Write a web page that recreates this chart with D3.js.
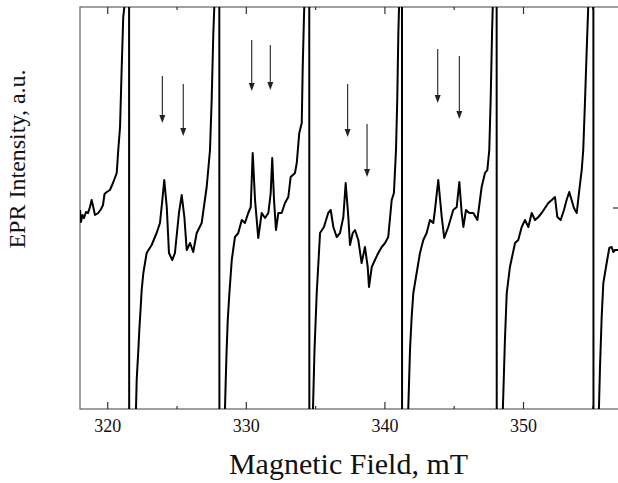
<!DOCTYPE html>
<html>
<head>
<meta charset="utf-8">
<script src="https://cdn.jsdelivr.net/npm/d3@7"></script>
<style>
  body { margin: 0; background: #fff; }
  svg { display: block; }
</style>
</head>
<body>
<svg id="chart" width="618" height="483"></svg>
<script>
// magnetic field, mT (values off the scale mark the clipped sweeps through the big lines)
const field = [
  318.00, 318.07, 318.18, 318.29, 318.43, 318.58, 318.72, 318.84, 318.94, 319.08,
  319.32, 319.52, 319.66, 319.77, 319.93, 320.16, 320.38, 320.65, 320.76, 320.89,
  321.01, 321.12, 321.20, 321.28, 321.54, 321.55, 321.97,
  322.04, 322.09, 322.21, 322.28, 322.38, 322.45, 322.57, 322.81, 323.17, 323.53,
  323.77, 323.94, 324.08, 324.26, 324.42, 324.66, 324.85, 325.14, 325.34, 325.53,
  325.70, 325.94, 326.17, 326.42, 326.78, 327.14, 327.38, 327.50, 327.62, 327.69,
  327.78, 328.05, 328.06, 328.43,
  328.46, 328.51, 328.58, 328.66, 328.77, 328.95, 329.18, 329.42, 329.67, 329.90,
  330.14, 330.32, 330.46, 330.63, 330.86, 331.11, 331.35, 331.59, 331.76, 331.87,
  332.00, 332.14, 332.31, 332.55, 332.79, 333.03, 333.20, 333.51, 333.64, 333.82,
  334.00, 334.07, 334.16, 334.18, 334.27, 334.54, 334.55, 334.77,
  334.81, 334.92, 335.08, 335.32, 335.60, 335.91, 336.09, 336.28, 336.52, 336.76,
  337.00, 337.17, 337.36, 337.48, 337.68, 337.84, 338.08, 338.32, 338.56, 338.76,
  338.85, 339.05, 339.28, 339.52, 339.77, 340.01, 340.24, 340.49, 340.65, 340.80,
  340.89, 340.97, 341.02, 341.09, 341.23, 341.24, 341.63,
  341.69, 341.81, 341.93, 342.05, 342.29, 342.53, 342.77, 343.01, 343.25, 343.49,
  343.61, 343.85, 344.10, 344.28, 344.57, 344.93, 345.18, 345.37, 345.54, 345.66,
  345.85, 346.09, 346.38, 346.67, 346.98, 347.22, 347.39, 347.53, 347.63, 347.73,
  347.78, 347.87, 348.06, 348.07, 348.48,
  348.51, 348.66, 348.79, 349.02, 349.39, 349.62, 349.87, 350.11, 350.35, 350.59,
  350.83, 351.07, 351.31, 351.55, 351.79, 352.04, 352.27, 352.44, 352.68, 352.92,
  353.11, 353.30, 353.47, 353.64, 353.84, 354.00, 354.20, 354.31, 354.44, 354.56,
  354.67, 354.80, 355.04, 355.05, 355.41,
  355.44, 355.52, 355.64, 355.76, 356.00, 356.19, 356.36, 356.48, 356.60, 356.82
];

// EPR intensity, a.u.
const intensity = [
  -2, -14, -7, -10, -4, -5, 1, 8, 2, -7,
  -5, -1, 3, 14, 16, 18, 25, 35, 58, 81,
  141, 191, 201, 240, 300, -300, -240,
  -201, -172, -142, -122, -99, -82, -65, -45, -37, -25,
  -15, 8, 28, 1, -45, -52, -45, -5, 13, -9,
  -42, -35, -44, -25, -15, 21, 58, 108, 175, 201,
  240, 300, -300, -240,
  -201, -175, -142, -112, -87, -52, -29, -25, -12, -15,
  -5, 1, 55, 8, -30, -5, -10, -5, 15, 50,
  8, -22, -5, -5, 5, 11, 31, 35, 45, 75,
  85, 141, 191, 201, 240, 300, -300, -240,
  -201, -142, -85, -25, -19, -5, -2, -19, -29, -25,
  -9, 25, -9, -37, -25, -22, -32, -55, -39, -59,
  -79, -59, -52, -45, -39, -35, -29, 8, 15, 58,
  108, 175, 201, 240, 300, -300, -240,
  -199, -142, -109, -85, -65, -45, -32, -25, -12, -15,
  -2, 28, -9, -30, -19, -2, 1, 26, -5, -19,
  -2, -5, -5, -12, 21, 35, 38, 58, 108, 175,
  201, 240, 300, -300, -240,
  -201, -132, -85, -59, -35, -32, -19, -12, -19, -5,
  -12, -9, -5, 0, 5, 8, 11, -9, -12, -2,
  8, 16, 8, 0, -5, 15, 38, 58, 108, 158,
  201, 240, 300, -300, -240,
  -201, -159, -109, -75, -55, -40, -39, -44, -42, -42
];

// arrows marking the weak lines
const arrowField = [323.94, 325.45, 330.39, 331.73, 337.31, 338.71, 343.81, 345.37];
const arrowTail = [132, 124, 168, 163, 124, 84, 159, 152];
const arrowTip = [85, 72, 117, 118, 71, 31, 105, 89];

const majorTicks = [320, 330, 340, 350];
const minorTicks = [325, 335, 345, 355];
const yTicks = [0];

const svg = d3.select('#chart');
const m = { left: 80, right: 619, top: 7, bottom: 409 };

const x = d3.scaleLinear().domain([318, 356.89]).range([m.left, m.right]);
const y = d3.scaleLinear().domain([-201, 201]).range([m.bottom, m.top]);

svg.append('defs')
  .append('clipPath')
  .attr('id', 'plot')
  .append('rect')
  .attr('x', m.left)
  .attr('y', m.top)
  .attr('width', m.right - m.left)
  .attr('height', m.bottom - m.top);

const frame = svg.append('g').attr('class', 'frame');

frame.append('rect')
  .attr('x', m.left)
  .attr('y', m.top)
  .attr('width', m.right - m.left)
  .attr('height', m.bottom - m.top)
  .attr('fill', 'none')
  .attr('stroke', '#6e6e6e')
  .attr('stroke-width', 1.3);

const tickLines = (vals, len) => {
  vals.forEach(v => {
    frame.append('line')
      .attr('x1', x(v)).attr('x2', x(v))
      .attr('y1', m.bottom).attr('y2', m.bottom - len)
      .attr('stroke', '#333').attr('stroke-width', 1.2);
    frame.append('line')
      .attr('x1', x(v)).attr('x2', x(v))
      .attr('y1', m.top).attr('y2', m.top + len)
      .attr('stroke', '#333').attr('stroke-width', 1.2);
  });
};
tickLines(majorTicks, 7);
tickLines(minorTicks, 3);

yTicks.forEach(v => {
  frame.append('line')
    .attr('x1', m.right).attr('x2', m.right - 6)
    .attr('y1', y(v)).attr('y2', y(v))
    .attr('stroke', '#333').attr('stroke-width', 1.2);
});

svg.append('g')
  .selectAll('text')
  .data(majorTicks)
  .enter()
  .append('text')
  .attr('x', d => x(d))
  .attr('y', 432)
  .attr('text-anchor', 'middle')
  .style('font-family', '"Liberation Serif", "Times New Roman", serif')
  .style('font-size', '18px')
  .attr('fill', '#111')
  .text(d => d);

svg.append('text')
  .attr('x', (m.left + m.right) / 2 - 1)
  .attr('y', 474)
  .attr('text-anchor', 'middle')
  .style('font-family', '"Liberation Serif", "Times New Roman", serif')
  .style('font-size', '30px')
  .attr('fill', '#111')
  .text('Magnetic Field, mT');

svg.append('text')
  .attr('transform', 'translate(25, 159) rotate(-90)')
  .attr('text-anchor', 'middle')
  .style('font-family', '"Liberation Serif", "Times New Roman", serif')
  .style('font-size', '24px')
  .attr('fill', '#111')
  .text('EPR Intensity, a.u.');

const line = d3.line()
  .x(d => x(d[0]))
  .y(d => y(d[1]));

svg.append('path')
  .datum(field.map((f, i) => [f, intensity[i]]))
  .attr('clip-path', 'url(#plot)')
  .attr('fill', 'none')
  .attr('stroke', '#000')
  .attr('stroke-width', 2)
  .attr('stroke-linejoin', 'round')
  .attr('d', line);

const arrows = svg.append('g')
  .selectAll('g')
  .data(arrowField.map((f, i) => ({ f, tail: arrowTail[i], tip: arrowTip[i] })))
  .enter()
  .append('g');

arrows.append('line')
  .attr('x1', d => x(d.f)).attr('x2', d => x(d.f))
  .attr('y1', d => y(d.tail)).attr('y2', d => y(d.tip) - 4)
  .attr('stroke', '#222')
  .attr('stroke-width', 1.1);

arrows.append('path')
  .attr('d', d => {
    const cx = x(d.f);
    const ty = y(d.tip);
    return `M${cx},${ty} L${cx - 3},${ty - 8} L${cx + 3},${ty - 8} Z`;
  })
  .attr('fill', '#222');
</script>
</body>
</html>
